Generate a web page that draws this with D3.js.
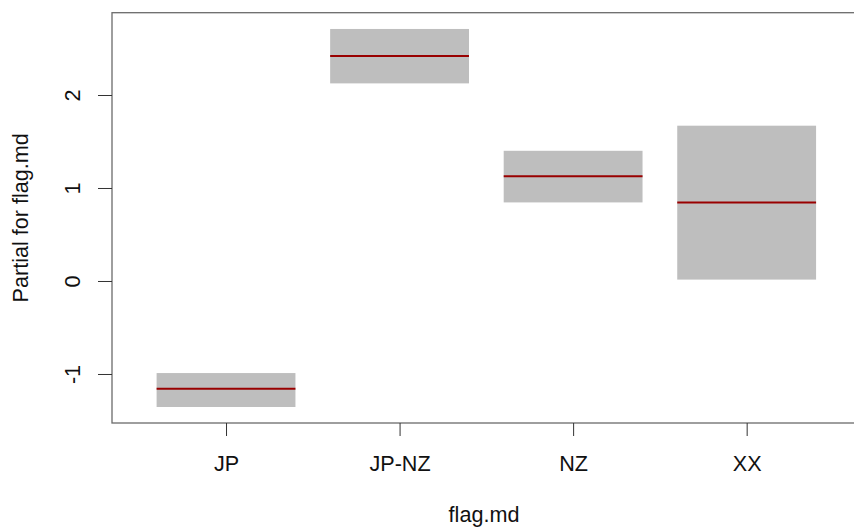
<!DOCTYPE html>
<html>
<head>
<meta charset="utf-8">
<script src="https://cdn.jsdelivr.net/npm/d3@7"></script>
<style>
  html, body { margin: 0; padding: 0; background: #fff; }
  svg { display: block; font-family: "Liberation Sans", Arial, sans-serif; }
</style>
</head>
<body>
<svg id="chart" width="854" height="527"></svg>
<script>
// Partial effect of flag.md: fitted term with upper/lower standard-error band
const categories = ["JP", "JP-NZ", "NZ", "XX"];
const partial   = [-1.16, 2.42, 1.125, 0.845];
const upperSE   = [-0.99, 2.71, 1.40, 1.67];
const lowerSE   = [-1.355, 2.125, 0.845, 0.015];
const yTicks    = [-1, 0, 1, 2];

const svg = d3.select("#chart");
const plotLeft = 112, plotRight = 856, plotTop = 12.7, plotBottom = 423;
const fontSize = 21.6;

const x = d3.scaleLinear().domain([0.343, 4.63]).range([plotLeft, plotRight]);
const y = d3.scaleLinear().domain([-1.527, 2.885]).range([plotBottom, plotTop]);
const halfWidth = 0.4;

const rows = categories.map((c, i) => ({
  cat: c, pos: i + 1, fit: partial[i], hi: upperSE[i], lo: lowerSE[i]
}));

// standard-error bands
svg.append("g").selectAll("rect").data(rows).join("rect")
  .attr("x", d => x(d.pos - halfWidth))
  .attr("width", d => x(d.pos + halfWidth) - x(d.pos - halfWidth))
  .attr("y", d => y(d.hi))
  .attr("height", d => y(d.lo) - y(d.hi))
  .attr("fill", "#bebebe");

// fitted partial effect
svg.append("g").selectAll("line").data(rows).join("line")
  .attr("x1", d => x(d.pos - halfWidth))
  .attr("x2", d => x(d.pos + halfWidth))
  .attr("y1", d => y(d.fit))
  .attr("y2", d => y(d.fit))
  .attr("stroke", "#990000")
  .attr("stroke-width", 2);

// plot frame
svg.append("rect")
  .attr("x", plotLeft).attr("y", plotTop)
  .attr("width", plotRight - plotLeft).attr("height", plotBottom - plotTop)
  .attr("fill", "none").attr("stroke", "#6b6b6b").attr("stroke-width", 1.3);

// y axis
const yAxis = svg.append("g").attr("transform", `translate(${plotLeft},0)`)
  .call(d3.axisLeft(y).tickValues(yTicks).tickSize(14).tickFormat(d => String(d)));
yAxis.select(".domain").remove();
yAxis.selectAll(".tick line").attr("stroke", "#333");
yAxis.selectAll(".tick text")
  .attr("font-size", fontSize).attr("fill", "#111")
  .attr("text-anchor", "middle")
  .attr("x", 0).attr("dy", 0)
  .attr("transform", "translate(-32,0) rotate(-90)");

// x axis
const xAxis = svg.append("g").attr("transform", `translate(0,${plotBottom})`)
  .call(d3.axisBottom(x).tickValues(rows.map(d => d.pos)).tickSize(13)
    .tickFormat(v => categories[v - 1]));
xAxis.select(".domain").remove();
xAxis.selectAll(".tick line").attr("stroke", "#333");
xAxis.selectAll(".tick text")
  .attr("font-size", fontSize).attr("fill", "#111")
  .attr("y", 0).attr("dy", 0)
  .attr("transform", "translate(0,48)");

// axis titles
svg.append("text")
  .attr("x", (plotLeft + plotRight) / 2).attr("y", 521.5)
  .attr("text-anchor", "middle").attr("font-size", fontSize).attr("fill", "#111")
  .text("flag.md");

svg.append("text")
  .attr("transform", `translate(28,${(plotTop + plotBottom) / 2}) rotate(-90)`)
  .attr("text-anchor", "middle").attr("font-size", fontSize).attr("fill", "#111")
  .text("Partial for flag.md");
</script>
</body>
</html>
